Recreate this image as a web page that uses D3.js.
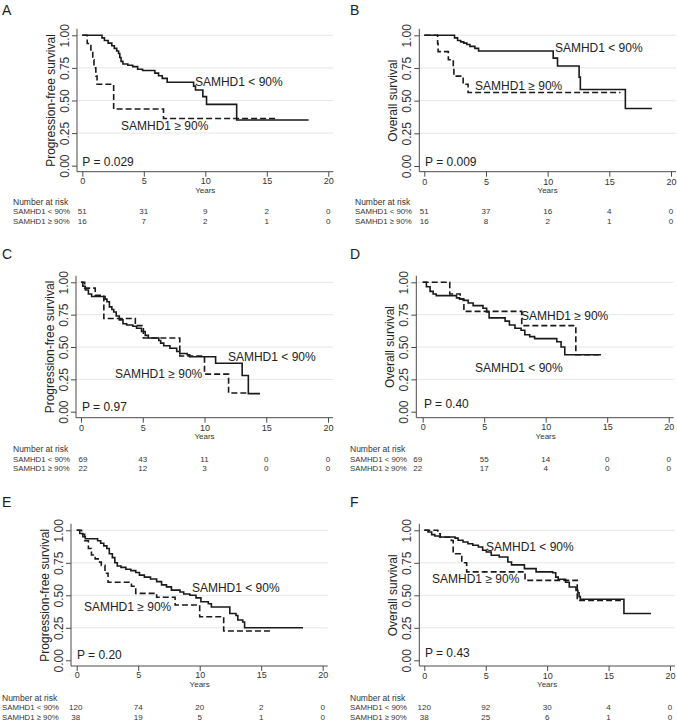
<!DOCTYPE html>
<html><head><meta charset="utf-8">
<script src="https://cdn.jsdelivr.net/npm/d3@7"></script>
<style>
body{margin:0;background:#fff}
svg{display:block}
text{font-family:"Liberation Sans",Arial,Helvetica,sans-serif}
</style>
</head><body>
<svg id="c" width="677" height="721"></svg>
<script>
// ---------- DATA ----------
const yearTicks = [0, 5, 10, 15, 20];
const survTicks = [0, 0.25, 0.5, 0.75, 1];
const panelLetters = ["A", "B", "C", "D", "E", "F"];
const yTitles = ["Progression-free survival", "Overall survival", "Progression-free survival", "Overall survival", "Progression-free survival", "Overall survival"];
const pLabels = ["P = 0.029", "P = 0.009", "P = 0.97", "P = 0.40", "P = 0.20", "P = 0.43"];
const groupNames = ["SAMHD1 < 90%", "SAMHD1 \u2265 90%"];
const xTitle = "Years";
const riskTitle = "Number at risk";

// Kaplan-Meier steps: [years, survival]
const kmA_low = [[0,1],[1.6,0.98],[1.8,0.96],[2.1,0.94],[2.4,0.92],[2.6,0.90],[2.8,0.88],[2.95,0.86],[3.05,0.83],[3.15,0.80],[3.3,0.78],[3.7,0.77],[4.1,0.76],[4.5,0.74],[4.9,0.73],[5.9,0.71],[6.2,0.69],[6.5,0.67],[6.9,0.64],[9.05,0.61],[9.2,0.58],[9.8,0.53],[10.1,0.47],[12.55,0.35],[18.4,0.35]];
const kmA_high = [[0,1],[0.4,0.9375],[0.7,0.875],[0.85,0.8125],[0.95,0.75],[1.1,0.6875],[1.2,0.625],[2.55,0.435],[6.6,0.362],[15.7,0.362]];
const kmB_low = [[0,1],[2.45,0.98],[2.7,0.96],[2.95,0.95],[3.2,0.94],[3.45,0.93],[3.7,0.915],[4.1,0.90],[4.4,0.88],[10.45,0.825],[10.8,0.765],[12.55,0.68],[12.65,0.585],[16.3,0.44],[18.45,0.44]];
const kmB_high = [[0,1],[1.08,0.9375],[1.12,0.875],[1.95,0.8125],[2.35,0.75],[2.4,0.6875],[3.15,0.625],[3.55,0.5625],[15.9,0.5625]];
const kmC_low = [[0,1],[0.15,0.97],[0.35,0.94],[0.6,0.91],[0.86,0.89],[1.95,0.87],[2.1,0.85],[2.3,0.81],[2.5,0.79],[2.65,0.77],[2.85,0.74],[3.1,0.71],[3.4,0.68],[3.7,0.67],[4.2,0.66],[4.5,0.645],[4.9,0.62],[5.2,0.59],[5.45,0.57],[6.3,0.55],[6.45,0.53],[6.7,0.51],[7.2,0.49],[7.75,0.465],[8.0,0.45],[8.6,0.44],[8.8,0.425],[10.9,0.375],[13.05,0.28],[13.55,0.14],[14.5,0.14]];
const kmC_high = [[0,1],[0.3,0.955],[1.15,0.90],[1.85,0.72],[4.4,0.665],[5.05,0.57],[8.0,0.43],[10.0,0.29],[11.95,0.145],[13.4,0.145]];
const kmD_low = [[0,1],[0.3,0.966],[0.6,0.93],[0.85,0.91],[1.1,0.897],[2.75,0.88],[3.0,0.87],[3.3,0.86],[3.7,0.84],[4.1,0.82],[4.9,0.80],[5.2,0.77],[5.4,0.725],[6.7,0.70],[7.05,0.67],[7.5,0.645],[8.0,0.63],[8.3,0.595],[8.7,0.58],[9.1,0.565],[10.9,0.54],[11.25,0.50],[11.55,0.44],[14.5,0.44]];
const kmD_high = [[0,1],[2.2,0.91],[3.05,0.87],[3.35,0.775],[8.05,0.665],[12.45,0.44],[14.4,0.44]];
const kmE_low = [[0,1],[0.25,0.975],[0.5,0.95],[0.7,0.935],[1.7,0.92],[1.95,0.90],[2.2,0.88],[2.45,0.86],[2.65,0.82],[2.9,0.79],[3.1,0.75],[3.3,0.725],[3.6,0.715],[4.0,0.70],[4.4,0.69],[4.8,0.675],[5.1,0.655],[5.5,0.64],[6.0,0.625],[6.5,0.605],[6.9,0.58],[7.3,0.565],[7.7,0.54],[8.4,0.525],[8.7,0.51],[9.2,0.50],[9.7,0.48],[10.1,0.45],[10.7,0.435],[10.95,0.41],[12.45,0.36],[12.95,0.345],[13.1,0.31],[13.5,0.295],[13.65,0.25],[18.4,0.25]];
const kmE_high = [[0,1],[0.4,0.97],[0.65,0.92],[0.95,0.86],[1.2,0.81],[1.5,0.78],[1.75,0.755],[2.0,0.73],[2.3,0.67],[2.55,0.60],[4.45,0.57],[4.8,0.515],[6.5,0.485],[8.0,0.425],[10.0,0.335],[11.95,0.225],[15.85,0.225]];
const kmF_low = [[0,1],[0.3,0.987],[0.6,0.967],[0.85,0.956],[1.25,0.949],[2.5,0.94],[2.75,0.923],[3.15,0.91],[3.55,0.897],[3.95,0.885],[4.4,0.872],[4.75,0.846],[5.05,0.833],[5.45,0.808],[6.1,0.795],[6.8,0.756],[7.1,0.734],[8.15,0.705],[9.1,0.68],[10.45,0.674],[10.7,0.64],[10.9,0.623],[11.5,0.60],[11.8,0.564],[12.35,0.538],[12.5,0.52],[12.6,0.49],[12.7,0.47],[16.25,0.36],[18.45,0.36]];
const kmF_high = [[0,1],[1.1,0.974],[1.3,0.947],[2.2,0.921],[2.35,0.82],[3.05,0.75],[3.45,0.68],[8.2,0.615],[12.45,0.46],[16.0,0.46]];

// Number at risk at 0,5,10,15,20 years
const riskA_low = [51, 31, 9, 2, 0],   riskA_high = [16, 7, 2, 1, 0];
const riskB_low = [51, 37, 16, 4, 0],  riskB_high = [16, 8, 2, 1, 0];
const riskC_low = [69, 43, 11, 0, 0],  riskC_high = [22, 12, 3, 0, 0];
const riskD_low = [69, 55, 14, 0, 0],  riskD_high = [22, 17, 4, 0, 0];
const riskE_low = [120, 74, 20, 2, 0], riskE_high = [38, 19, 5, 1, 0];
const riskF_low = [120, 92, 30, 4, 0], riskF_high = [38, 25, 6, 1, 0];

// ---------- LAYOUT ----------
const layout = [
  {xr:[82.3,328.3], yr:[165.7,35.3], axX:77, axY:171.7, tickY:181.5, yearsY:190.5, riskHY:201.7, riskY:[211.7,221.7], riskX:13, letter:[2,10], lowLbl:[9.16,0.642], highLbl:[3.15,0.304], pLbl:[0,0.028], firstDx:0},
  {xr:[424.3,671], yr:[166,35.3], axX:419.3, axY:171.7, tickY:181.8, yearsY:190.5, riskHY:201.7, riskY:[211.7,221.2], riskX:355, letter:[350,10], lowLbl:[10.59,0.90], highLbl:[4.11,0.612], pLbl:[0.06,0.033], firstDx:0},
  {xr:[81,328], yr:[411.7,282.3], axX:76, axY:417.7, tickY:427.8, yearsY:436.9, riskHY:449, riskY:[459.3,468.7], riskX:13, letter:[2,254], lowLbl:[11.9,0.425], highLbl:[2.75,0.291], pLbl:[0.08,0.036], firstDx:2},
  {xr:[422.7,668.7], yr:[411.7,282.3], axX:416.3, axY:417.7, tickY:427.5, yearsY:436.9, riskHY:448.5, riskY:[459.3,468.7], riskX:350, letter:[350,254], lowLbl:[4.25,0.34], highLbl:[7.99,0.74], pLbl:[0.1,0.06], firstDx:-5},
  {xr:[76.7,322.7], yr:[660.3,530.3], axX:71, axY:666, tickY:675.3, yearsY:684.5, riskHY:698.3, riskY:[707.7,717.3], riskX:2, letter:[2,502], lowLbl:[9.37,0.554], highLbl:[0.59,0.412], pLbl:[0.02,0.04], firstDx:-1},
  {xr:[424.3,670], yr:[660.3,530.3], axX:419.3, axY:666, tickY:675.5, yearsY:684.5, riskHY:697.5, riskY:[707.7,717.3], riskX:350, letter:[350,502], lowLbl:[5.02,0.874], highLbl:[0.63,0.625], pLbl:[0.05,0.056], firstDx:0}
];

const panels = [
  {low:kmA_low, high:kmA_high, rLow:riskA_low, rHigh:riskA_high},
  {low:kmB_low, high:kmB_high, rLow:riskB_low, rHigh:riskB_high},
  {low:kmC_low, high:kmC_high, rLow:riskC_low, rHigh:riskC_high},
  {low:kmD_low, high:kmD_high, rLow:riskD_low, rHigh:riskD_high},
  {low:kmE_low, high:kmE_high, rLow:riskE_low, rHigh:riskE_high},
  {low:kmF_low, high:kmF_high, rLow:riskF_low, rHigh:riskF_high}
];

const svg = d3.select("#c");
svg.append("rect").attr("width",677).attr("height",721).attr("fill","#fff");

const INK = "#1a1a1a", AX = "#4a4a4a", TXT = "#222", RISK = "#333";

panels.forEach((P, i) => {
  const L = layout[i];
  const x = d3.scaleLinear().domain([0, 20]).range(L.xr);
  const y = d3.scaleLinear().domain([0, 1]).range(L.yr);
  const g = svg.append("g");
  const right = x(20) + 5;

  // grid
  g.selectAll("line.grid").data(survTicks.filter(d => d > 0)).join("line")
    .attr("class","grid")
    .attr("x1", L.axX).attr("x2", right)
    .attr("y1", d => y(d)).attr("y2", d => y(d))
    .attr("stroke", "#e6e6e6").attr("stroke-width", 1);

  // y axis
  const ya = g.append("g").attr("transform", `translate(${L.axX},0)`)
    .call(d3.axisLeft(y).tickValues(survTicks).tickFormat(d3.format(".2f")).tickSize(5).tickSizeOuter(0));
  ya.select(".domain").remove();
  ya.selectAll(".tick line").attr("stroke", AX);
  ya.selectAll(".tick text")
    .attr("x", null).attr("dy", null)
    .attr("text-anchor", "middle").attr("dominant-baseline", "central")
    .attr("transform", "translate(-12,0) rotate(-90)")
    .attr("font-size", 12).attr("fill", RISK);
  g.append("line").attr("x1", L.axX).attr("x2", L.axX)
    .attr("y1", y(1) - 6.5).attr("y2", L.axY).attr("stroke", AX);

  // x axis
  const xa = g.append("g").attr("transform", `translate(0,${L.axY})`)
    .call(d3.axisBottom(x).tickValues(yearTicks).tickSize(5).tickSizeOuter(0));
  xa.select(".domain").remove();
  xa.selectAll(".tick line").attr("stroke", AX);
  xa.selectAll(".tick text")
    .attr("y", L.tickY - L.axY).attr("dy", null)
    .attr("dominant-baseline", "central")
    .attr("font-size", 9).attr("fill", RISK);
  g.append("line").attr("x1", L.axX).attr("x2", right)
    .attr("y1", L.axY).attr("y2", L.axY).attr("stroke", AX);

  // titles
  g.append("text").text(xTitle)
    .attr("x", x(10)).attr("y", L.yearsY)
    .attr("text-anchor", "middle").attr("dominant-baseline", "central")
    .attr("font-size", 8).attr("fill", RISK);
  g.append("text").text(yTitles[i])
    .attr("transform", `translate(${L.axX - 26},${(y(0) + y(1)) / 2}) rotate(-90)`)
    .attr("text-anchor", "middle").attr("dominant-baseline", "central")
    .attr("font-size", 12).attr("fill", TXT);

  // curves
  const line = d3.line().x(d => x(d[0])).y(d => y(d[1])).curve(d3.curveStepAfter);
  g.append("path").datum(P.high).attr("d", line)
    .attr("fill", "none").attr("stroke", INK).attr("stroke-width", 1.6)
    .attr("stroke-dasharray", "6,3");
  g.append("path").datum(P.low).attr("d", line)
    .attr("fill", "none").attr("stroke", INK).attr("stroke-width", 1.6);

  // curve labels & P value
  const lbl = (pos, t) => g.append("text").text(t)
    .attr("x", x(pos[0])).attr("y", y(pos[1]))
    .attr("dominant-baseline", "central")
    .attr("font-size", 12).attr("fill", TXT);
  lbl(L.lowLbl, groupNames[0]);
  lbl(L.highLbl, groupNames[1]);
  lbl(L.pLbl, pLabels[i]);

  // letter
  g.append("text").text(panelLetters[i])
    .attr("x", L.letter[0]).attr("y", L.letter[1])
    .attr("dominant-baseline", "central")
    .attr("font-size", 14).attr("fill", TXT);

  // number at risk
  g.append("text").text(riskTitle)
    .attr("x", L.riskX).attr("y", L.riskHY)
    .attr("dominant-baseline", "central")
    .attr("font-size", 8.5).attr("fill", RISK);
  [P.rLow, P.rHigh].forEach((vals, r) => {
    g.append("text").text(groupNames[r])
      .attr("x", L.riskX).attr("y", L.riskY[r])
      .attr("dominant-baseline", "central")
      .attr("font-size", 7.8).attr("fill", RISK);
    g.selectAll(null).data(vals).join("text")
      .text(d => d)
      .attr("x", (d, j) => x(yearTicks[j]) + (j === 0 ? L.firstDx : 0))
      .attr("y", L.riskY[r])
      .attr("text-anchor", "middle").attr("dominant-baseline", "central")
      .attr("font-size", 8).attr("fill", RISK);
  });
});
</script>
</body></html>
